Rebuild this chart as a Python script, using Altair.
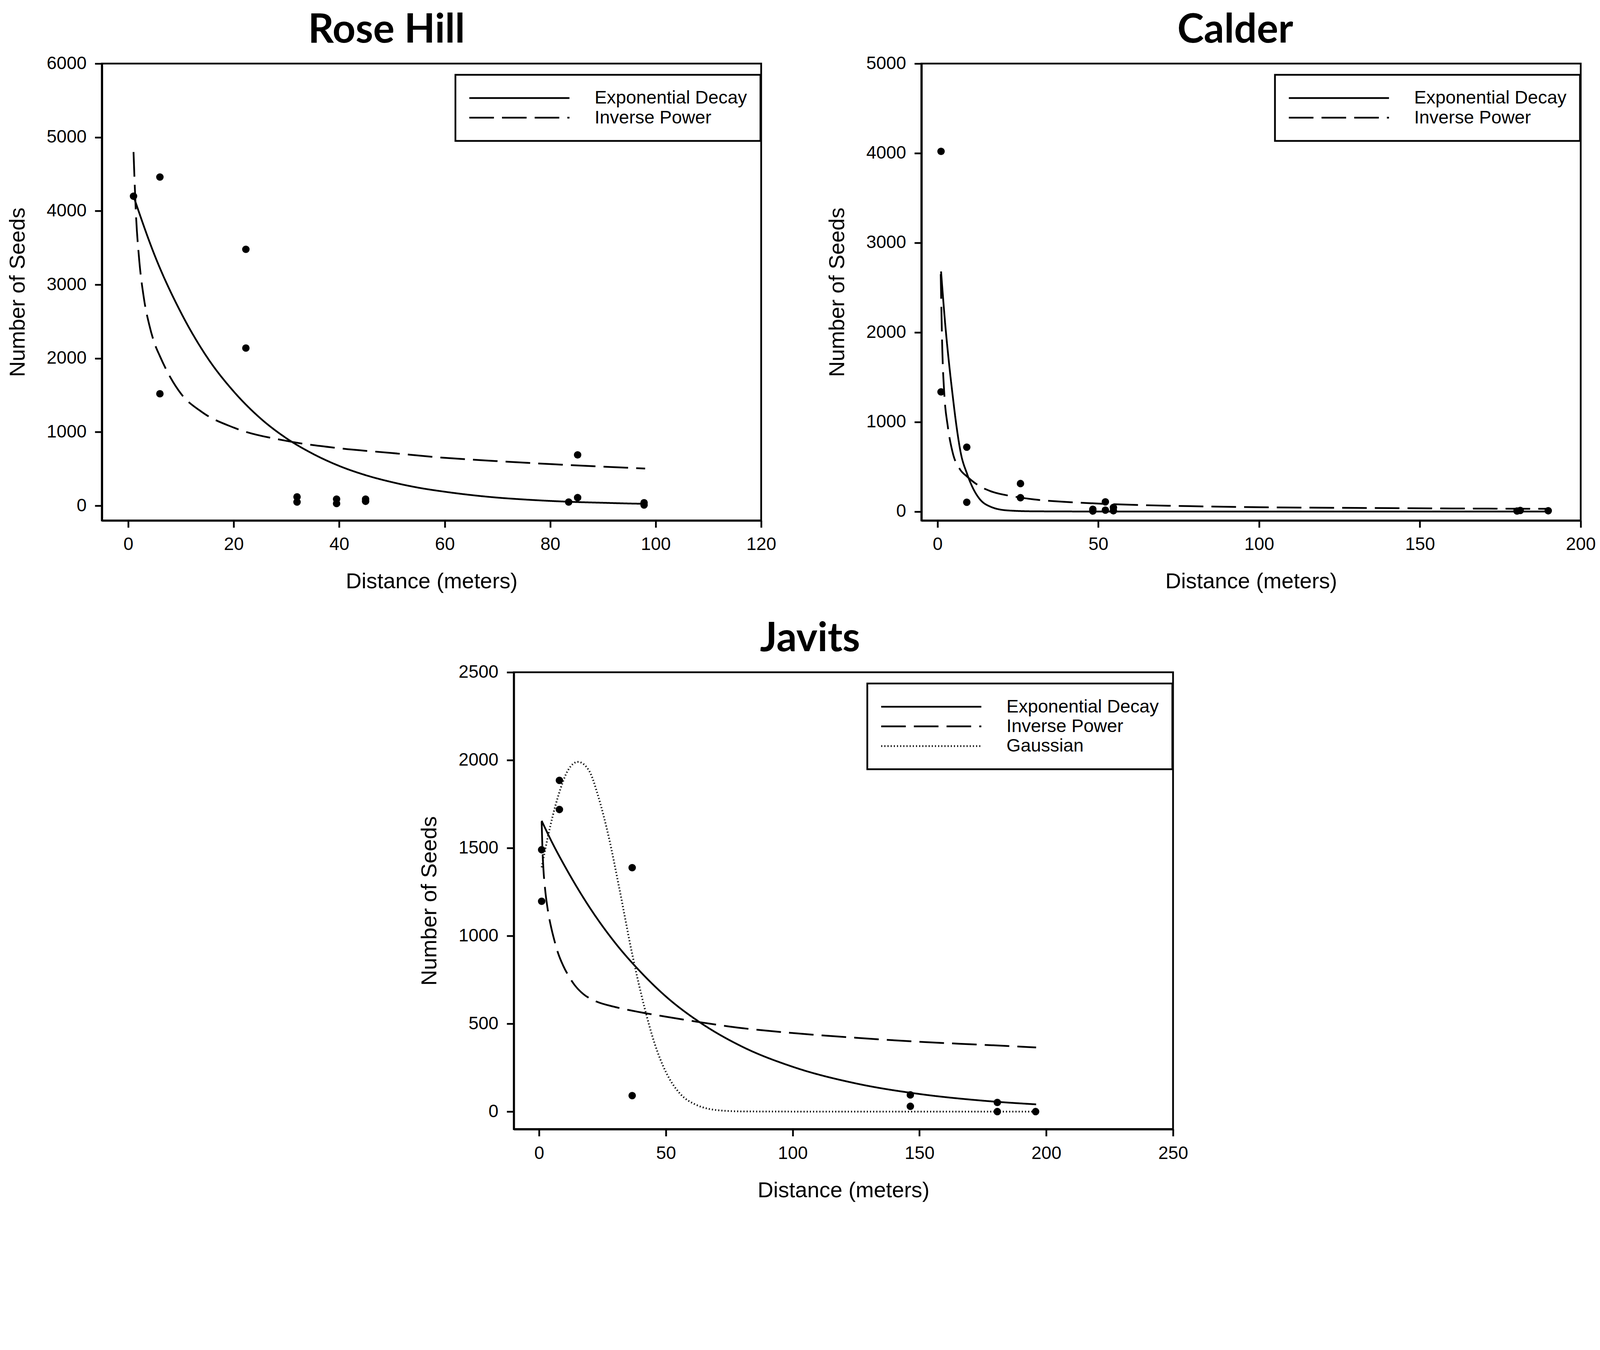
import altair as alt
import pandas as pd

# ---------------- data ----------------
# Rose Hill
RH_pts_x = [1, 6, 6, 22.3, 22.3, 32, 32, 39.5, 39.5, 45, 45, 83.5, 85.2, 85.2, 97.8, 97.8]
RH_pts_y = [4200, 4460, 1520, 3480, 2140, 120, 50, 90, 30, 90, 60, 50, 690, 110, 40, 10]
RH_exp_x = [1, 5, 10, 15, 20, 25, 30, 35, 40, 45, 50, 55, 60, 65, 70, 75, 80, 85, 90, 95, 98]
RH_exp_y = [4200, 3400, 2620, 2010, 1550, 1190, 915, 705, 540, 415, 320, 245, 190, 145, 110, 85, 65, 50, 40, 30, 26]
RH_pow_x = [1, 1.5, 2, 3, 4, 5, 6, 8, 10, 14, 20, 30, 40, 50, 60, 70, 80, 90, 98]
RH_pow_y = [4800, 3900, 3400, 2800, 2450, 2200, 2030, 1740, 1520, 1270, 1060, 880, 780, 715, 650, 605, 565, 530, 505]

# Calder
CA_pts_x = [1.1, 1.1, 9.1, 9.1, 25.8, 25.8, 48.3, 48.3, 52.2, 52.2, 54.7, 54.7, 180.2, 181.2, 189.9]
CA_pts_y = [4020, 1335, 718, 103, 312, 154, 25, 5, 108, 15, 45, 8, 5, 12, 8]
CA_exp_x = [1.1, 2.5, 3.6, 4.7, 5.8, 7.2, 9.2, 10.9, 13.1, 16.4, 21.8, 30, 50, 100, 150, 190]
CA_exp_y = [2680, 2050, 1650, 1300, 980, 660, 420, 270, 140, 55, 12, 2, 0, 0, 0, 0]
CA_pow_x = [1.0, 1.5, 2.1, 3.2, 4.7, 7.0, 9.2, 13, 16.4, 24, 30, 40, 52, 75, 100, 130, 160, 190]
CA_pow_y = [2650, 1800, 1320, 950, 660, 470, 390, 285, 228, 166, 135, 107, 85, 62, 48, 40, 34, 30]

# Javits
JA_pts_x = [1, 1, 8, 8, 36.7, 36.7, 146.4, 146.4, 180.7, 180.7, 195.8]
JA_pts_y = [1490, 1197, 1885, 1719, 1388, 91, 95, 30, 52, 0, 0]
JA_exp_x = [1, 5, 10, 20, 30, 40, 50, 63.7, 80, 100, 125, 150, 175, 196]
JA_exp_y = [1655, 1535, 1400, 1160, 960, 795, 655, 505, 370, 255, 160, 100, 62, 41]
JA_pow_x = [1, 1.3, 1.7, 2.4, 3.4, 4.8, 6, 7.4, 9.5, 11.5, 14, 17.5, 22, 30, 40, 50, 63.7, 80, 100, 125, 150, 175, 196]
JA_pow_y = [1650, 1500, 1380, 1260, 1150, 1045, 975, 905, 830, 775, 720, 668, 630, 595, 565, 540, 508, 475, 447, 420, 397, 380, 365]
JA_gau_x = [1, 3.4, 7.4, 11.5, 15.3, 19.5, 23.5, 27.5, 31.5, 36.8, 41.6, 45.6, 50, 55.7, 61.7, 71.7, 80, 100, 150, 196]
JA_gau_y = [1390, 1560, 1790, 1945, 1990, 1945, 1785, 1560, 1280, 890, 590, 385, 225, 100, 40, 6, 1, 0, 0, 0]

# axis ticks
RH_xticks = [0, 20, 40, 60, 80, 100, 120]
RH_yticks = [0, 1000, 2000, 3000, 4000, 5000, 6000]
CA_xticks = [0, 50, 100, 150, 200]
CA_yticks = [0, 1000, 2000, 3000, 4000, 5000]
JA_xticks = [0, 50, 100, 150, 200, 250]
JA_yticks = [0, 500, 1000, 1500, 2000, 2500]

# ---------------- styling ----------------
W, H = 1876, 1300
FONT = "Liberation Sans, Arial, sans-serif"
DASHES = {
    "Exponential Decay": [1, 0],
    "Inverse Power": [70, 23],
    "Gaussian": [3, 6],
}


def curves_df(series):
    rows = []
    for name, xs, ys in series:
        for i, (x, y) in enumerate(zip(xs, ys)):
            rows.append({"model": name, "x": x, "y": y, "i": i})
    return pd.DataFrame(rows)


def panel(title, pts_x, pts_y, series, xdom, ydom, xticks, yticks, tdx=0):
    pts = pd.DataFrame({"x": pts_x, "y": pts_y})
    cdf = curves_df(series)
    names = [s[0] for s in series]
    xsc = alt.Scale(domain=xdom, nice=False, zero=False)
    ysc = alt.Scale(domain=ydom, nice=False, zero=False)
    xax = alt.Axis(values=xticks, format="d", title="Distance (meters)", labelFlush=False)
    yax = alt.Axis(values=yticks, format="d", title="Number of Seeds")

    lines = alt.Chart(cdf).mark_line(
        color="black", strokeWidth=5, interpolate="monotone", clip=True
    ).encode(
        x=alt.X("x:Q", scale=xsc, axis=xax),
        y=alt.Y("y:Q", scale=ysc, axis=yax),
        order="i:Q",
        strokeDash=alt.StrokeDash(
            "model:N",
            scale=alt.Scale(domain=names, range=[DASHES[n] for n in names]),
            legend=alt.Legend(
                title=None,
                orient="none",
                legendX=1006,
                legendY=32,
                # long horizontal line symbol, drawn as a scaled custom path
                symbolType="M-10,0L10,0",
                symbolSize=812,
                symbolOffset=118,
                symbolStrokeWidth=5,
                symbolStrokeColor="black",
                clipHeight=56,
                rowPadding=0,
                labelOffset=188,
                labelLimit=0,
                padding=38,
                strokeColor="black",
                labelFontSize=52,
                labelFont=FONT,
                labelColor="black",
            ),
        ),
    )
    dots = alt.Chart(pts).mark_circle(color="black", size=450, opacity=1).encode(
        x=alt.X("x:Q", scale=xsc, axis=xax),
        y=alt.Y("y:Q", scale=ysc, axis=yax),
    )
    return alt.layer(lines, dots).properties(
        width=W,
        height=H,
        title=alt.Title(
            title,
            font="Lato",
            fontSize=114,
            fontWeight="bold",
            color="black",
            anchor="middle",
            frame="bounds",
            offset=10,
            dx=tdx,
        ),
    )


rose = panel(
    "Rose Hill", RH_pts_x, RH_pts_y,
    [("Exponential Decay", RH_exp_x, RH_exp_y), ("Inverse Power", RH_pow_x, RH_pow_y)],
    [-5, 120], [-200, 6000], RH_xticks, RH_yticks, tdx=-14,
)
calder = panel(
    "Calder", CA_pts_x, CA_pts_y,
    [("Exponential Decay", CA_exp_x, CA_exp_y), ("Inverse Power", CA_pow_x, CA_pow_y)],
    [-5, 200], [-100, 5000], CA_xticks, CA_yticks, tdx=69,
)
javits = panel(
    "Javits", JA_pts_x, JA_pts_y,
    [("Exponential Decay", JA_exp_x, JA_exp_y), ("Inverse Power", JA_pow_x, JA_pow_y),
     ("Gaussian", JA_gau_x, JA_gau_y)],
    [-10, 250], [-100, 2500], JA_xticks, JA_yticks, tdx=19,
)

# invisible spacer that pushes the Javits panel to the middle of the page
spacer = alt.Chart(pd.DataFrame({"s": [0]})).mark_point(opacity=0, size=1).encode(
    x=alt.X("s:Q", axis=None),
    y=alt.Y("s:Q", axis=None),
).properties(width=896, height=10, view=alt.ViewBackground(stroke="transparent"))

top = alt.hconcat(rose, calder, spacing=137).resolve_scale(
    x="independent", y="independent", strokeDash="independent"
).resolve_legend(strokeDash="independent")

bottom = alt.hconcat(spacer, javits, spacing=0).resolve_scale(
    x="independent", y="independent", strokeDash="independent"
).resolve_legend(strokeDash="independent")

chart = alt.vconcat(top, bottom, spacing=70).resolve_scale(
    x="independent", y="independent", strokeDash="independent"
).resolve_legend(strokeDash="independent").properties(
    padding={"left": 8, "top": -155, "right": 0, "bottom": -135}
).configure_view(
    stroke="black", strokeWidth=5
).configure_axis(
    domainColor="black",
    domainWidth=6,
    tickColor="black",
    tickWidth=5,
    tickSize=20,
    labelFont=FONT,
    labelFontSize=51,
    labelColor="black",
    labelPadding=24,
    titleFont=FONT,
    titleFontSize=62,
    titleFontWeight="normal",
    titleColor="black",
    titlePadding=50,
    grid=False,
).configure_legend(
    strokeWidth=5
)

chart.save("out.html", embed_options={"renderer": "svg", "actions": False})
